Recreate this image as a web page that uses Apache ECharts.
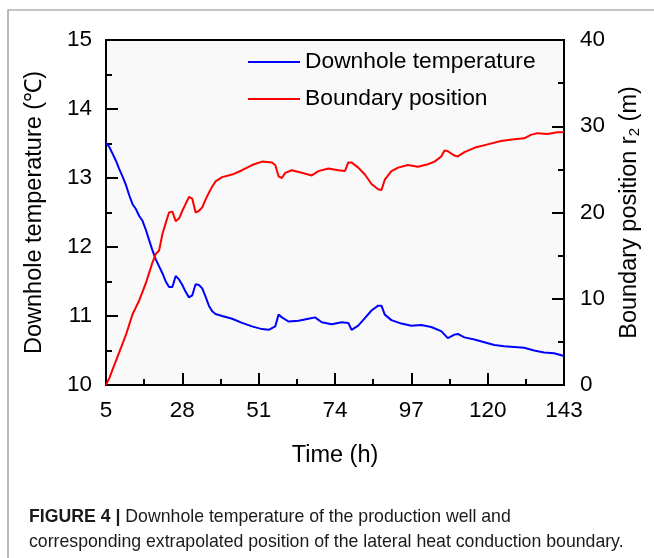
<!DOCTYPE html>
<html>
<head>
<meta charset="utf-8">
<script src="https://cdn.jsdelivr.net/npm/echarts@6/dist/echarts.min.js"></script>
<style>
  html, body { margin: 0; padding: 0; background: #fff; }
  #main { width: 654px; height: 558px; }
</style>
</head>
<body>
<div id="main"></div>
<script>
// time axis starts at 5 h, ticks every 23 h
var T0 = 5;
var xTicks = [5, 28, 51, 74, 97, 120, 143];

// downhole temperature (℃) vs time (h)
var tempTime = [5, 6, 7, 8, 9, 10, 11, 12, 13, 14, 15, 16, 17, 18, 19, 20, 21, 22, 23, 24, 25, 26, 27, 28, 29, 30,
    31, 32, 33, 34, 35, 36, 37, 38, 40, 43, 46, 49, 52, 54, 56, 57, 58, 60, 63, 66, 68, 70, 73, 76, 78, 79,
    81, 83, 85, 87, 88, 89, 91, 94, 97, 100, 103, 106, 108, 110, 111, 113, 116, 119, 122, 125, 128, 131,
    134, 137, 140, 143];
var tempValue = [13.51, 13.45, 13.35, 13.25, 13.13, 13.02, 12.90, 12.75, 12.62, 12.55, 12.45, 12.38, 12.25, 12.10,
    11.95, 11.82, 11.72, 11.62, 11.50, 11.42, 11.42, 11.58, 11.53, 11.45, 11.35, 11.27, 11.30, 11.46, 11.45,
    11.40, 11.28, 11.15, 11.07, 11.03, 11.00, 10.96, 10.90, 10.85, 10.81, 10.80, 10.85, 11.02, 10.98, 10.92,
    10.93, 10.96, 10.98, 10.91, 10.88, 10.91, 10.90, 10.80, 10.86, 10.97, 11.08, 11.15, 11.15, 11.02, 10.94,
    10.89, 10.86, 10.87, 10.84, 10.78, 10.68, 10.73, 10.74, 10.69, 10.66, 10.62, 10.58, 10.56, 10.55, 10.54,
    10.50, 10.47, 10.46, 10.42];

// boundary position r2 (m) vs time (h)
var bndTime = [5, 6, 7, 8, 9, 10, 11, 12, 13, 14, 15, 16, 17, 18, 19, 20, 21, 22, 23, 24, 25, 26, 27, 28, 29, 30,
    31, 32, 33, 34, 35, 36, 37, 38, 40, 43, 46, 49, 52, 55, 56, 57, 58, 59, 61, 64, 67, 69, 72, 75, 77, 78,
    79, 81, 83, 85, 87, 88, 89, 91, 93, 96, 99, 102, 104, 106, 107, 108, 110, 111, 113, 116, 120, 124, 128,
    131, 133, 135, 138, 141, 143];
var bndValue = [0, 0.8, 1.8, 2.8, 3.8, 4.8, 5.8, 7.0, 8.2, 9.0, 9.8, 10.8, 11.8, 13.0, 14.2, 15.2, 15.6, 17.5, 18.8,
    20.0, 20.1, 19.0, 19.3, 20.2, 21.0, 21.8, 21.6, 20.0, 20.2, 20.6, 21.5, 22.3, 23.0, 23.6, 24.1, 24.4, 24.9,
    25.5, 25.9, 25.8, 25.5, 24.2, 24.0, 24.6, 24.9, 24.6, 24.3, 24.8, 25.1, 24.9, 24.8, 25.8, 25.8, 25.2, 24.4,
    23.3, 22.7, 22.6, 23.8, 24.8, 25.2, 25.5, 25.3, 25.6, 25.9, 26.5, 27.2, 27.1, 26.6, 26.5, 27.0, 27.5, 27.9,
    28.3, 28.5, 28.6, 29.0, 29.2, 29.1, 29.3, 29.3];

function pairs(ts, vs) {
    return ts.map(function (t, i) { return [t - T0, vs[i]]; });
}

var FONT = 'Liberation Sans';
var myChart = echarts.init(document.getElementById('main'));
myChart.setOption({
    animation: false,
    backgroundColor: '#ffffff',
    textStyle: { fontFamily: FONT },
    grid: {
        left: 106,
        top: 40,
        width: 458,
        height: 345,
        show: true,
        backgroundColor: '#f9f9f9',
        borderColor: '#000',
        borderWidth: 2
    },
    legend: {
        orient: 'vertical',
        left: 243,
        top: 45,
        itemWidth: 52,
        itemHeight: 2,
        itemGap: 13,
        icon: 'rect',
        textStyle: { fontSize: 22.8, color: '#000', fontFamily: FONT, lineHeight: 24 },
        data: ['Downhole temperature', 'Boundary position']
    },
    // X轴
    xAxis: {
        type: 'value',
        min: 0,
        max: 138,
        interval: 23,
        name: 'Time (h)',
        nameLocation: 'middle',
        nameGap: 59,
        nameTextStyle: { fontSize: 23.5, color: '#000' },
        axisLine: { lineStyle: { color: '#000', width: 2 } },
        axisTick: { inside: true, length: 12, lineStyle: { color: '#000', width: 2 } },
        minorTick: { show: true, splitNumber: 2, length: 6, lineStyle: { color: '#000', width: 2 } },
        splitLine: { show: false },
        axisLabel: {
            fontSize: 22.5, color: '#000', margin: 14,
            formatter: function (v) { return String(v + T0); }
        }
    },
    // Y轴
    yAxis: [{
        type: 'value',
        min: 10,
        max: 15,
        interval: 1,
        name: 'Downhole temperature (℃)',
        nameLocation: 'middle',
        nameRotate: 90,
        nameGap: 59,
        nameTextStyle: { fontSize: 23.5, color: '#000' },
        axisLine: { lineStyle: { color: '#000', width: 2 } },
        axisTick: { inside: true, length: 12, lineStyle: { color: '#000', width: 2 } },
        minorTick: { show: true, splitNumber: 2, length: 6, lineStyle: { color: '#000', width: 2 } },
        splitLine: { show: false },
        axisLabel: { fontSize: 22.5, color: '#000', margin: 14 }
    }, {
        type: 'value',
        position: 'right',
        min: 0,
        max: 40,
        interval: 10,
        name: 'Boundary position r{sub|2} (m)',
        nameLocation: 'middle',
        nameRotate: 90,
        nameGap: 54,
        nameTextStyle: {
            fontSize: 23.5, color: '#000',
            rich: {
                sub: { fontSize: 15, color: '#000', verticalAlign: 'bottom', lineHeight: 14 }
            }
        },
        axisLine: { show: true, lineStyle: { color: '#000', width: 2 } },
        axisTick: { inside: true, length: 12, lineStyle: { color: '#000', width: 2 } },
        minorTick: { show: true, splitNumber: 2, length: 6, lineStyle: { color: '#000', width: 2 } },
        splitLine: { show: false },
        axisLabel: { fontSize: 22.5, color: '#000', margin: 16 }
    }],
    title: {
        left: 24,
        top: 500,
        text: '{b|FIGURE 4 |} Downhole temperature of the production well and\ncorresponding extrapolated position of the lateral heat conduction boundary.',
        textStyle: {
            fontSize: 17.7, fontWeight: 'normal', color: '#1a1a1a', lineHeight: 25, fontFamily: FONT,
            rich: {
                b: { fontSize: 17.7, fontWeight: 'bold', color: '#1a1a1a', lineHeight: 25, fontFamily: FONT }
            }
        }
    },
    graphic: [{
        type: 'polyline',
        silent: true,
        shape: { points: [[8, 558], [8, 10], [654, 10]] },
        style: { stroke: '#8a8a8a', lineWidth: 1.2, fill: null }
    }],
    series: [{
        name: 'Downhole temperature',
        type: 'line',
        yAxisIndex: 0,
        showSymbol: false,
        color: '#0000ff',
        lineStyle: { width: 2, color: '#0000ff' },
        data: pairs(tempTime, tempValue)
    }, {
        name: 'Boundary position',
        type: 'line',
        yAxisIndex: 1,
        showSymbol: false,
        color: '#ff0000',
        lineStyle: { width: 2, color: '#ff0000' },
        data: pairs(bndTime, bndValue)
    }]
});
</script>
</body>
</html>
